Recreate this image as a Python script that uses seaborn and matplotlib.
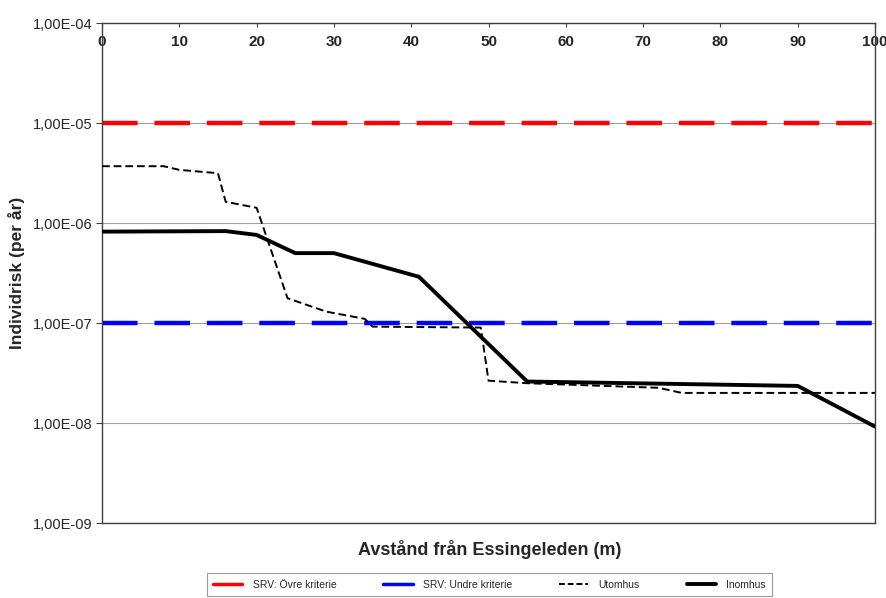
import numpy as np
import pandas as pd
import matplotlib
matplotlib.use("Agg")
import matplotlib.pyplot as plt
from matplotlib.lines import Line2D
from matplotlib.ticker import FuncFormatter, NullLocator
import seaborn as sns

# Criteria levels
ovre_kriterie = 1e-5
undre_kriterie = 1e-7

# Utomhus (outdoor) risk
ute_x = [0, 8, 10, 15, 16, 20, 24, 29, 34, 35, 49, 50, 55, 72, 75, 100]
ute_y = [3.7e-6, 3.7e-6, 3.4e-6, 3.15e-6, 1.63e-6, 1.42e-6, 1.77e-7, 1.3e-7,
         1.1e-7, 9.2e-8, 9.0e-8, 2.65e-8, 2.5e-8, 2.25e-8, 2.0e-8, 2.0e-8]

# Inomhus (indoor) risk
inne_x = [0, 16, 20, 25, 30, 41, 55, 90, 100]
inne_y = [8.2e-7, 8.3e-7, 7.6e-7, 5.0e-7, 5.0e-7, 2.9e-7, 2.6e-8, 2.35e-8, 9.2e-9]

x_ticks = [0, 10, 20, 30, 40, 50, 60, 70, 80, 90, 100]

sns.set_style("white")
plt.rcParams["font.family"] = ["Liberation Sans", "DejaVu Sans"]

fig = plt.figure(figsize=(8.87, 5.98), dpi=100)
ax = fig.add_axes([0.115, 0.1254, 0.8715, 0.8361])

# horizontal grid at each decade
for e in range(-9, -3):
    ax.axhline(10.0 ** e, color="#a0a0a0", lw=0.8, zorder=0)

dash = (8, 3.8)
ax.plot([0, 100], [ovre_kriterie] * 2, color="#ff0000", lw=3.2, dashes=dash, zorder=2)
ax.plot([0, 100], [undre_kriterie] * 2, color="#0000ff", lw=3.2, dashes=dash, zorder=2)

ute = pd.DataFrame({"x": ute_x, "y": ute_y})
inne = pd.DataFrame({"x": inne_x, "y": inne_y})
sns.lineplot(data=ute, x="x", y="y", ax=ax, color="black", lw=1.4,
             linestyle=(0, (4, 2)), zorder=3)
sns.lineplot(data=inne, x="x", y="y", ax=ax, color="black", lw=2.8, zorder=4)

ax.set_yscale("log")
ax.set_ylim(1e-9, 1e-4)
ax.set_xlim(0, 100)
ax.yaxis.set_minor_locator(NullLocator())
ax.set_yticks([10.0 ** e for e in range(-9, -3)])


def sci_comma(v, pos):
    s = f"{v:.2E}"
    mant, exp = s.split("E")
    return f"{mant.replace('.', ',')}E{exp[0]}{int(exp[1:]):02d}"


ax.yaxis.set_major_formatter(FuncFormatter(sci_comma))
ax.tick_params(axis="y", which="major", direction="out", length=4, width=0.8,
               color="#404040", labelsize=10.5, pad=3, left=True)

ax.set_xticks(x_ticks)
ax.tick_params(axis="x", bottom=False, top=True, labelbottom=False, labeltop=True,
               direction="in", length=3, width=0.8, color="#404040",
               labelsize=11, pad=-19)
for lbl in ax.get_xticklabels():
    lbl.set_fontweight("bold")

for sp in ax.spines.values():
    sp.set_color("#404040")
    sp.set_linewidth(1.0)

ax.set_xlabel("")
ax.set_ylabel("Individrisk (per år)", fontsize=12.5, fontweight="bold")
ax.yaxis.set_label_coords(-0.1, 0.5)
fig.text(0.552, 0.081, "Avstånd från Essingeleden (m)", fontsize=13,
         fontweight="bold", ha="center", va="center")

handles = [
    Line2D([], [], color="#ff0000", lw=2.5),
    Line2D([], [], color="#0000ff", lw=2.5),
    Line2D([], [], color="black", lw=1.4, linestyle=(0, (3, 1.5))),
    Line2D([], [], color="black", lw=2.8),
]
labels = ["SRV: Övre kriterie", "SRV: Undre kriterie", "Utomhus", "Inomhus"]
leg = fig.legend(handles, labels, loc="upper center", bbox_to_anchor=(0.552, 0.05),
                 ncol=4, fontsize=7.5, frameon=True, fancybox=False,
                 edgecolor="#808080", handlelength=2.8, columnspacing=4.5,
                 handletextpad=1.0, borderpad=0.6)
leg.get_frame().set_linewidth(0.8)

fig.savefig("out.png", dpi=100)
